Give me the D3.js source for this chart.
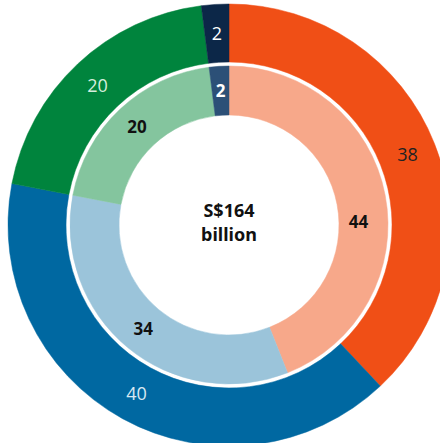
<!DOCTYPE html>
<html lang="en">
<head>
<meta charset="UTF-8">
<title>S$164 billion donut</title>
<script src="https://d3js.org/d3.v7.min.js"></script>
<style>
    body { margin: 0; background: #fff; }
    svg { display: block; }
    .outer-label { font-family: "Open Sans", "Noto Sans", sans-serif; font-size: 18px; font-weight: 400; }
    .inner-label { font-family: "Noto Sans", sans-serif; font-size: 17px; font-weight: 700; }
    .center-label { font-family: "Noto Sans", sans-serif; font-size: 18px; font-weight: 700; fill: #111; }
</style>
</head>
<body>
<svg id="chart"></svg>
<script>
    // outer ring
    const outerValues = [38, 40, 20, 2];
    const outerColors = ["#f04f16", "#0068a1", "#00843d", "#0c2748"];
    const outerText = ["#222", "#d9e8f2", "#d5eedd", "#ffffff"];

    // inner ring
    const innerValues = [44, 34, 20, 2];
    const innerColors = ["#f7a88a", "#9bc4da", "#84c59e", "#2c5077"];
    const innerText = ["#111", "#111", "#111", "#ffffff"];

    const centerLines = ["S$164", "billion"];

    const width = 440, height = 443;
    const cx = 229, cy = 225;

    const svg = d3.select("#chart")
        .attr("width", width)
        .attr("height", height);

    const g = svg.append("g").attr("transform", `translate(${cx},${cy})`);

    const pie = d3.pie().sort(null).value(d => d);

    function drawRing(values, colors, textColors, r0, r1, cls) {
        const arc = d3.arc().innerRadius(r0).outerRadius(r1);
        const arcs = pie(values);
        const ring = g.append("g");
        ring.selectAll("path")
            .data(arcs)
            .enter().append("path")
            .attr("d", arc)
            .attr("fill", (d, i) => colors[i])
            .attr("stroke", (d, i) => colors[i])
            .attr("stroke-width", 0.5);
        ring.selectAll("text")
            .data(arcs)
            .enter().append("text")
            .attr("class", cls)
            .attr("text-anchor", "middle")
            .attr("dy", "0.36em")
            .attr("fill", (d, i) => textColors[i])
            .attr("transform", (d, i) => {
                let [x, y] = arc.centroid(d);
                // big first slice in the inner ring: label sits lower, near 3 o'clock
                if (cls === "inner-label" && i === 0) {
                    const a = Math.PI / 2 * 0.985, r = (r0 + r1) / 2 - 5;
                    x = r * Math.sin(a); y = -r * Math.cos(a);
                }
                return `translate(${x},${y})`;
            })
            .text(d => d.data);
    }

    drawRing(outerValues, outerColors, outerText, 163, 221, "outer-label");
    drawRing(innerValues, innerColors, innerText, 110, 159, "inner-label");

    g.selectAll(".center-label")
        .data(centerLines)
        .enter().append("text")
        .attr("class", "center-label")
        .attr("text-anchor", "middle")
        .attr("y", (d, i) => -8 + i * 24)
        .text(d => d);
</script>
</body>
</html>
